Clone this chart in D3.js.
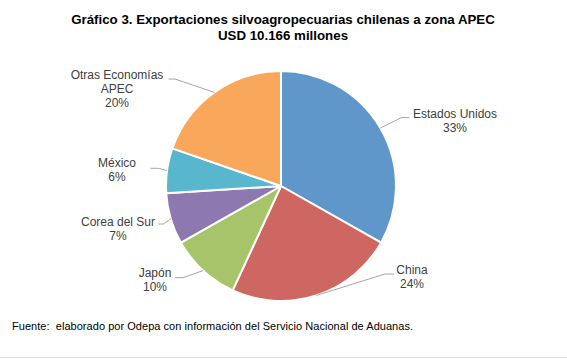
<!DOCTYPE html>
<html><head><meta charset="utf-8">
<script src="https://cdn.jsdelivr.net/npm/d3@7"></script>
<style>
html,body{margin:0;padding:0;background:#fff;}
svg{display:block;font-family:"Liberation Sans",Arial,sans-serif;}
</style></head>
<body>
<svg id="chart" width="567" height="358"></svg>
<script>
const titleLines = ["Gráfico 3. Exportaciones silvoagropecuarias chilenas a zona APEC", "USD 10.166 millones"];
const footnote = "Fuente:  elaborado por Odepa con información del Servicio Nacional de Aduanas.";
const categories = ["Estados Unidos", "China", "Japón", "Corea del Sur", "México", "Otras Economías APEC"];
const values = [33.2, 23.7, 9.9, 7.2, 6.3, 19.7];
const pctLabels = ["33%", "24%", "10%", "7%", "6%", "20%"];
const colors = ["#6097CB", "#CE6761", "#A7C46B", "#8E78B0", "#58B6CD", "#F8A75B"];

// label layout: text lines, text center x, first line y, leader elbow & end
const labelLines = [["Estados Unidos"], ["China"], ["Japón"], ["Corea del Sur"], ["México"], ["Otras Economías", "APEC"]];
const labelX = [455, 412, 155, 118, 117, 117];
const labelY = [114, 270, 272.5, 222, 163, 75];
const leaderElbow = [[401.5, 117.5], [385, 274], [183, 277.7], [163.5, 224], [158.5, 168.3], [175, 79]];
const leaderEnd = [[409.5, 117.5], [394, 274], [175, 277.7], [158.5, 224], [150.5, 168.3], [168.5, 79]];

const svg = d3.select("#chart");
const cx = 281, cy = 186, r = 115;

svg.append("g").selectAll("text").data(titleLines).join("text")
  .attr("x", 283).attr("y", (d, i) => 24 + i * 16)
  .attr("text-anchor", "middle").attr("font-weight", "bold").attr("font-size", 13.3)
  .attr("fill", "#000").text(d => d);

const pie = d3.pie().sort(null).value(d => d)(values);
const arc = d3.arc().innerRadius(0).outerRadius(r);
const g = svg.append("g").attr("transform", `translate(${cx},${cy})`);
g.selectAll("path").data(pie).join("path")
  .attr("d", arc).attr("fill", (d, i) => colors[i])
  .attr("stroke", "#fff").attr("stroke-width", 2).attr("stroke-linejoin", "round");

// leader lines
const lead = svg.append("g");
pie.forEach((d, i) => {
  const a = (d.startAngle + d.endAngle) / 2;
  const sx = cx + r * Math.sin(a), sy = cy - r * Math.cos(a);
  lead.append("polyline")
    .attr("points", [[sx, sy], leaderElbow[i], leaderEnd[i]].map(p => p.join(",")).join(" "))
    .attr("fill", "none").attr("stroke", "#A6A6A6").attr("stroke-width", 1);
});

// labels
const lab = svg.append("g").attr("font-size", 12).attr("fill", "#404040").attr("text-anchor", "middle");
categories.forEach((c, i) => {
  const lines = labelLines[i].concat([pctLabels[i]]);
  lines.forEach((t, j) => {
    lab.append("text").attr("x", labelX[i]).attr("y", labelY[i] + 4 + j * 14).text(t);
  });
});

svg.append("text").attr("x", 12).attr("y", 330).attr("font-size", 11)
  .attr("fill", "#000").style("white-space", "pre").attr("textLength", 401).attr("lengthAdjust", "spacing").text(footnote);
svg.append("line").attr("x1", 0).attr("x2", 567).attr("y1", 357.5).attr("y2", 357.5).attr("stroke", "#e6e6e6");
</script>
</body></html>
